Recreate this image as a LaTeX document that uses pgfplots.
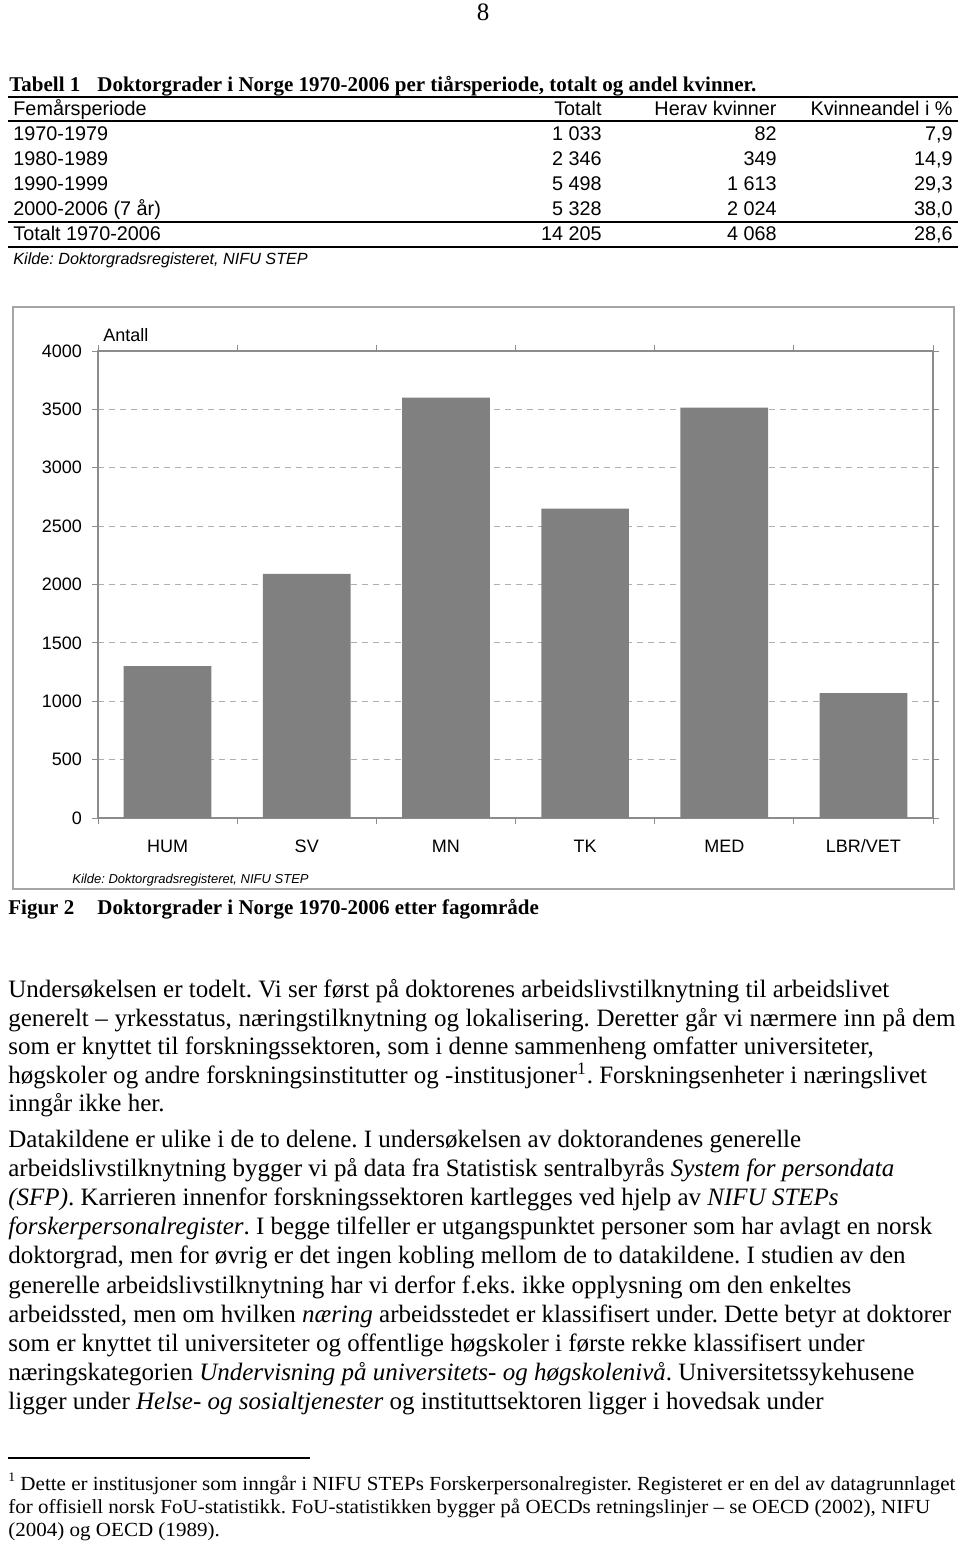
\documentclass[border=0pt]{standalone}
\usepackage{fontspec}
\setmainfont{Liberation Serif}
\newfontfamily\arial{Liberation Sans}
\newfontfamily\fnfont[FakeStretch=0.92]{Liberation Serif}
\usepackage{pgfplots}
\pgfplotsset{compat=1.18}

\definecolor{bargray}{RGB}{128,128,128}
\definecolor{framegray}{RGB}{165,165,165}
\definecolor{axisgray}{RGB}{140,140,140}
\definecolor{gridgray}{RGB}{175,175,175}

\newcommand{\bodyfont}{\fontsize{12.5}{14.5}\selectfont}
\newcommand{\tabfont}{\arial\fontsize{9.9}{11}\selectfont}
\newcommand{\capfont}{\fontsize{10.5}{12}\selectfont\bfseries}
\newcommand{\fnsize}{\fnfont\fontsize{10}{11.5}\selectfont}
% one body line, left edge at x=8, baseline at y
\newcommand{\bl}[2]{\node[anchor=base west,inner sep=0] at (8,#1) {\bodyfont #2};}

\newsavebox\fnbox
\newlength\fnlen
\frenchspacing

\begin{document}%
\sbox\fnbox{\fnsize\raisebox{0.9ex}{\fontsize{6.5}{7}\selectfont 1} Dette er institusjoner som inngår i NIFU STEPs Forskerpersonalregister. Registeret er en del av datagrunnlaget}%
\setlength\fnlen{\wd\fnbox}%
\pgfmathsetmacro\fnscale{473.5/\fnlen}%
\begin{tikzpicture}[x=0.5pt,y=-0.5pt]
\fill[white] (0,0) rectangle (960,1545);

% page number
\node[anchor=base,inner sep=0] at (483,21) {\bodyfont 8};

% table
\node[anchor=base west,inner sep=0] at (9,92) {\capfont Tabell 1};
\node[anchor=base west,inner sep=0] at (97,92) {\capfont Doktorgrader i Norge 1970-2006 per tiårsperiode, totalt og andel kvinner.};
\foreach \yy in {97,121,222,247} \draw[line width=1pt] (8,\yy) -- (958,\yy);
\node[anchor=base west,inner sep=0] at (13,116) {\tabfont Femårsperiode};
\node[anchor=base east,inner sep=0] at (602,116) {\tabfont Totalt};
\node[anchor=base east,inner sep=0] at (777,116) {\tabfont Herav kvinner};
\node[anchor=base east,inner sep=0] at (953,116) {\tabfont Kvinneandel i \%};
\foreach \yy/\a/\b/\c/\d in {141/1970-1979/1 033/82/{7,9},
                             166/1980-1989/2 346/349/{14,9},
                             191/1990-1999/5 498/1 613/{29,3},
                             216/2000-2006 (7 år)/5 328/2 024/{38,0},
                             241/Totalt 1970-2006/14 205/4 068/{28,6}}{
  \node[anchor=base west,inner sep=0] at (13,\yy) {\tabfont \a};
  \node[anchor=base east,inner sep=0] at (602,\yy) {\tabfont \b};
  \node[anchor=base east,inner sep=0] at (777,\yy) {\tabfont \c};
  \node[anchor=base east,inner sep=0] at (953,\yy) {\tabfont \d};
}
\node[anchor=base west,inner sep=0] at (13,265) {\arial\itshape\fontsize{8.1}{10}\selectfont Kilde: Doktorgradsregisteret, NIFU STEP};

% chart
\draw[framegray, line width=0.6pt] (13,307) rectangle (954,889);
\coordinate (plotorigin) at (98,818);
\begin{axis}[
  at={(plotorigin)}, anchor=south west,
  scale only axis, width=417.5pt, height=233.5pt,
  ybar, bar width=0.63,
  xmin=-0.5, xmax=5.5, ymin=0, ymax=4000,
  xtick={0,...,5},
  xticklabels={HUM,SV,MN,TK,MED,LBR/VET},
  minor xtick={-0.5,0.5,...,5.5},
  ytick={0,500,...,4000},
  tick align=outside,
  major tick length=3pt, minor tick length=3pt,
  tick style={axisgray, line width=0.5pt},
  major x tick style={draw=none},
  axis line style={axisgray, line width=0.6pt},
  ymajorgrids,
  grid style={gridgray, line width=0.5pt, dash pattern=on 3pt off 2.5pt},
  tick label style={font=\arial\fontsize{9}{10}\selectfont, text=black},
  xticklabel style={yshift=-3.5pt, text height=7pt, text depth=2pt},
  yticklabel style={xshift=-1.5pt},
  /pgf/number format/assume math mode=true,
  /pgf/number format/1000 sep={},
]
\addplot[fill=bargray, draw=none] coordinates {(0,1300) (1,2090) (2,3600) (3,2650) (4,3515) (5,1070)};
\end{axis}
\node[anchor=base west,inner sep=0] at (103,342) {\arial\fontsize{9}{10}\selectfont Antall};
\node[anchor=base west,inner sep=0] at (72,883) {\arial\itshape\fontsize{6.5}{8}\selectfont Kilde: Doktorgradsregisteret, NIFU STEP};

% figure caption
\node[anchor=base west,inner sep=0] at (8,914) {\capfont Figur 2};
\node[anchor=base west,inner sep=0] at (97,914) {\capfont Doktorgrader i Norge 1970-2006 etter fagområde};

% body text
\bl{997}{Undersøkelsen er todelt. Vi ser først på doktorenes arbeidslivstilknytning til arbeidslivet}
\bl{1026}{\makebox[473.5pt][s]{generelt – yrkesstatus, næringstilknytning og lokalisering. Deretter går vi nærmere inn på dem}}
\bl{1054}{som er knyttet til forskningssektoren, som i denne sammenheng omfatter universiteter,}
\bl{1083}{høgskoler og andre forskningsinstitutter og -institusjoner\textsuperscript{1}. Forskningsenheter i næringslivet}
\bl{1111}{inngår ikke her.}

\bl{1147}{Datakildene er ulike i de to delene. I undersøkelsen av doktorandenes generelle}
\bl{1176}{arbeidslivstilknytning bygger vi på data fra Statistisk sentralbyrås \textit{System for persondata}}
\bl{1205}{\textit{(SFP)}. Karrieren innenfor forskningssektoren kartlegges ved hjelp av \textit{NIFU STEPs}}
\bl{1234}{\textit{forskerpersonalregister}. I begge tilfeller er utgangspunktet personer som har avlagt en norsk}
\bl{1263}{doktorgrad, men for øvrig er det ingen kobling mellom de to datakildene. I studien av den}
\bl{1293}{generelle arbeidslivstilknytning har vi derfor f.eks. ikke opplysning om den enkeltes}
\bl{1322}{arbeidssted, men om hvilken \textit{næring} arbeidsstedet er klassifisert under. Dette betyr at doktorer}
\bl{1351}{som er knyttet til universiteter og offentlige høgskoler i første rekke klassifisert under}
\bl{1380}{næringskategorien \textit{Undervisning på universitets- og høgskolenivå}. Universitetssykehusene}
\bl{1409}{ligger under \textit{Helse- og sosialtjenester} og instituttsektoren ligger i hovedsak under}

% footnote
\draw[line width=0.6pt] (8,1458) -- (310,1458);
\node[anchor=base west,inner sep=0] at (8,1490) {\scalebox{\fnscale}[1]{\usebox\fnbox}};
\node[anchor=base west,inner sep=0] at (8,1513) {\scalebox{\fnscale}[1]{\fnsize for offisiell norsk FoU-statistikk. FoU-statistikken bygger på OECDs retningslinjer – se OECD (2002), NIFU}};
\node[anchor=base west,inner sep=0] at (8,1536) {\scalebox{\fnscale}[1]{\fnsize (2004) og OECD (1989).}};
\end{tikzpicture}%
\end{document}
